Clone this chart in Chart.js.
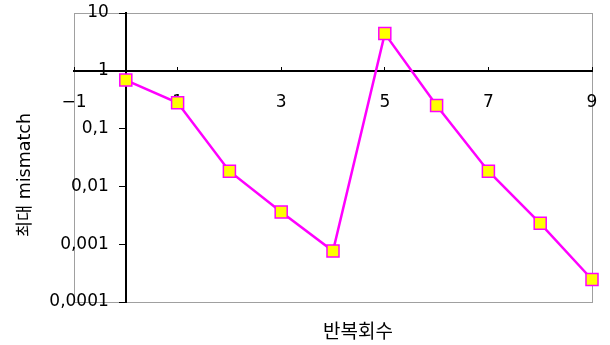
<!DOCTYPE html>
<html>
<head>
<meta charset="utf-8">
<script src="https://cdn.jsdelivr.net/npm/chart.js@4.4.1/dist/chart.umd.min.js"></script>
<style>
  html, body { margin: 0; padding: 0; background: #fff; }
  #wrap { width: 610px; height: 345px; }
</style>
</head>
<body>
<div id="wrap"><canvas id="chart" width="610" height="345"></canvas></div>
<script>
// iteration number vs. max mismatch (log scale)
const iterations = [0, 1, 2, 3, 4, 5, 6, 7, 8, 9];
const maxMismatch = [0.69, 0.28, 0.0183, 0.0036, 0.00076, 4.4, 0.25, 0.0183, 0.0023, 0.000245];
const xTicks = [-1, 1, 3, 5, 7, 9];
const yTicks = [0.0001, 0.001, 0.01, 0.1, 1, 10];
const xTitle = '반복회수';
const yTitle = '최대 mismatch';

const tickFont = { family: '"DejaVu Sans", sans-serif', size: 17 };

// axes that sit at x=0 / y=1 should not push the plot area around
const noPadding = (scale) => {
    scale.paddingTop = 0;
    scale.paddingBottom = 0;
    scale.paddingLeft = 0;
    scale.paddingRight = 0;
};

// grey frame round the plot area + the two axis titles
const frame = {
    id: 'frame',
    beforeDraw: (chart) => {
        const { ctx, chartArea: a } = chart;

        // y labels go a little left of the crossing axis
        chart.scales.y.getLabelItems(a).forEach(item => {
            item.options.translation[0] -= 17;
        });

        ctx.save();
        ctx.strokeStyle = '#a0a0a0';
        ctx.lineWidth = 1;
        ctx.strokeRect(Math.round(a.left) + 0.5, Math.round(a.top) + 0.5,
            Math.round(a.right - a.left), Math.round(a.bottom - a.top));
        ctx.restore();
    },
    afterDraw: (chart) => {
        const ctx = chart.ctx;
        ctx.save();
        ctx.fillStyle = '#000';
        ctx.textAlign = 'center';
        ctx.textBaseline = 'middle';

        ctx.font = '19px "Noto Sans CJK KR", sans-serif';
        ctx.fillText(xTitle, 358, 331);

        ctx.translate(25, 175);
        ctx.rotate(-Math.PI / 2);
        ctx.font = '17.5px "DejaVu Sans", "Noto Sans CJK KR", sans-serif';
        ctx.fillText(yTitle, 0, 0);
        ctx.restore();
    }
};

new Chart(document.getElementById('chart'), {
    type: 'line',
    data: {
        datasets: [{
            data: iterations.map((x, i) => ({ x: x, y: maxMismatch[i] })),
            borderColor: '#ff00ff',
            borderWidth: 2.5,
            tension: 0,
            clip: false,
            pointStyle: 'rect',
            pointRadius: 8.5,
            pointBackgroundColor: '#ffff00',
            pointBorderColor: '#ff00ff',
            pointBorderWidth: 1.5
        }]
    },
    options: {
        responsive: false,
        animation: false,
        events: [],
        layout: { padding: { left: 74, right: 18, top: 13, bottom: 43 } },
        plugins: {
            legend: { display: false },
            tooltip: { enabled: false }
        },
        scales: {
            x: {
                type: 'linear',
                min: -1,
                max: 9,
                position: { y: 1 },
                z: 1,
                afterBuildTicks: (scale) => {
                    scale.ticks = xTicks.map(v => ({ value: v }));
                },
                afterFit: noPadding,
                border: { color: '#000', width: 2 },
                grid: { drawOnChartArea: false, tickLength: -5, tickColor: '#000', tickWidth: 1 },
                ticks: {
                    color: '#000',
                    font: tickFont,
                    padding: 27,
                    maxRotation: 0,
                    autoSkip: false,
                    callback: (v) => String(v).replace('-', '\u2212')
                }
            },
            y: {
                type: 'logarithmic',
                min: 0.0001,
                max: 10,
                position: { x: 0 },
                afterBuildTicks: (scale) => {
                    scale.ticks = yTicks.map(v => ({ value: v }));
                },
                afterFit: noPadding,
                border: { color: '#000', width: 2 },
                grid: { drawOnChartArea: false, tickLength: 6, tickColor: '#000', tickWidth: 1 },
                ticks: {
                    color: '#000',
                    font: tickFont,
                    autoSkip: false,
                    callback: (v) => String(v).replace('.', ',')
                }
            }
        }
    },
    plugins: [frame]
});
</script>
</body>
</html>
